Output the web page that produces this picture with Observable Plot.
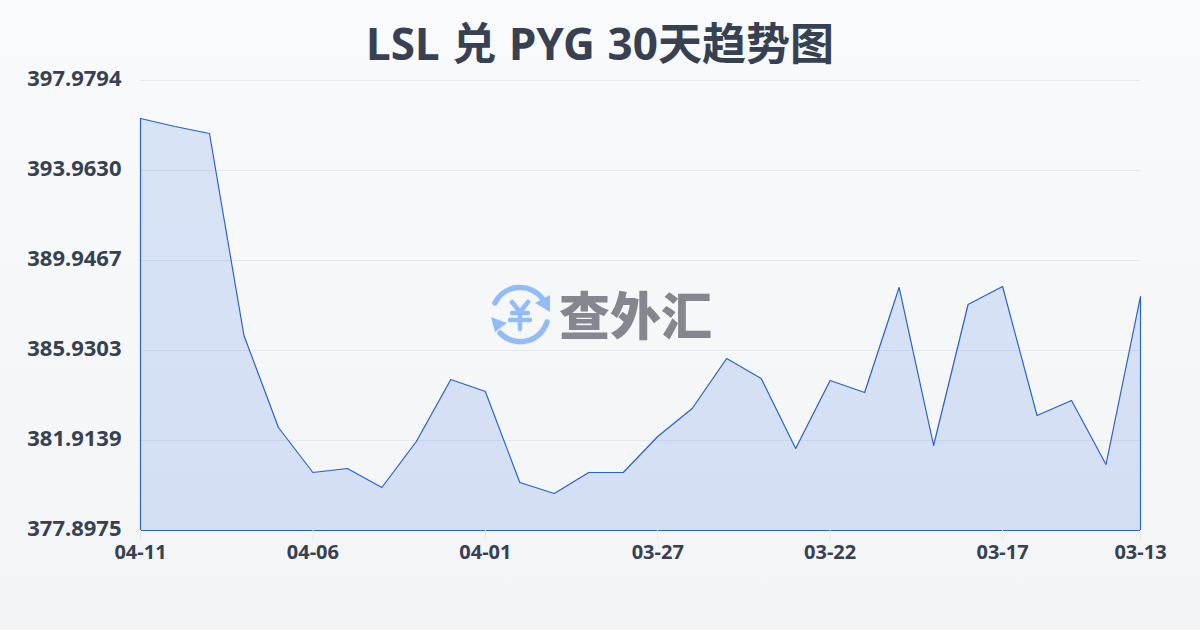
<!DOCTYPE html>
<html lang="zh">
<head>
<meta charset="utf-8">
<script src="https://cdn.jsdelivr.net/npm/d3@7"></script>
<script src="https://cdn.jsdelivr.net/npm/@observablehq/plot@0.6"></script>
<style>
html,body{margin:0;padding:0;width:1200px;height:630px;overflow:hidden;background:linear-gradient(180deg,#f9fafc 0%,#f3f4f6 100%);}
#wrap{position:relative;width:1200px;height:630px;}
#title{position:absolute;left:0;top:12px;width:1200px;text-align:center;font-size:44px;line-height:62px;font-weight:700;word-spacing:1.3px;color:#374151;font-family:"Noto Sans","Noto Sans CJK SC",sans-serif;}
#chart{position:absolute;left:0;top:0;}
#logo{position:absolute;left:0;top:0;}
#brand{position:absolute;left:559px;top:277px;font-size:51px;line-height:72px;font-weight:900;color:#84878f;font-family:"Noto Sans CJK SC",sans-serif;}
</style>
</head>
<body>
<div id="wrap">
<div id="chart"></div>
<svg id="logo" width="1200" height="630" fill="none">
  <g stroke="#93bbf8" stroke-width="5.5" stroke-linecap="round" stroke-linejoin="round">
    <path d="M495 303A28 28 0 0 1 542 298"/>
    <path d="M547 322A28 28 0 0 1 500 333"/>
    <path d="M512 302L520 312L528 302M512 313H528M510 320H530M520 312V329" stroke-width="4.5"/>
  </g>
  <path d="M550 295V312L535 303Z" fill="#93bbf8"/>
  <path d="M491 317L507 323L495 332Z" fill="#93bbf8"/>
</svg>
<div id="brand">查外汇</div>
<div id="title">LSL 兑 PYG 30天趋势图</div>
</div>
<script>
const dates = ["04-11","04-10","04-09","04-08","04-07","04-06","04-05","04-04","04-03","04-02","04-01","03-31","03-30","03-29","03-28","03-27","03-26","03-25","03-24","03-23","03-22","03-21","03-20","03-19","03-18","03-17","03-16","03-15","03-14","03-13"];
const rates = [396.284,395.927,395.614,386.600,382.494,380.486,380.664,379.816,381.869,384.636,384.101,380.040,379.549,380.486,380.486,382.092,383.342,385.573,384.681,381.557,384.591,384.056,388.742,381.691,387.983,388.786,383.030,383.699,380.843,388.340];
const yTicks = [377.8975,381.9139,385.9303,389.9467,393.9630,397.9794];
const xTicks = ["04-11","04-06","04-01","03-27","03-22","03-17","03-13"];
const baseline = 377.8975;
const table = dates.map((d,i)=>({date:d,rate:rates[i]}));

const plot = Plot.plot({
  width:1200,height:630,
  marginLeft:140,marginRight:60,marginTop:80,marginBottom:100,
  style:{background:"transparent",fontFamily:'"Noto Sans","Noto Sans CJK SC",sans-serif',overflow:"visible"},
  x:{type:"point",domain:dates,padding:0,round:false,label:null},
  y:{domain:[baseline,yTicks[5]],label:null},
  marks:[
    Plot.gridY(yTicks,{stroke:"#e5e8ee",strokeOpacity:1,strokeWidth:1}),
    Plot.areaY(table,{x:"date",y1:()=>baseline,y2:"rate",fill:"#2f6fe0",fillOpacity:0.16,curve:"linear"}),
    Plot.lineY(table.concat([{date:dates[29],rate:baseline},{date:dates[0],rate:baseline},table[0]]),{x:"date",y:"rate",stroke:"#2a62cc",strokeWidth:1.2,curve:"linear"}),
    Plot.axisY(yTicks,{tickSize:0,tickPadding:19,tickFormat:d=>d.toFixed(4),fontSize:22,fontWeight:700,fill:"#374151",dy:-2,style:{letterSpacing:"0.25px"}}),
    Plot.axisX(xTicks,{tickSize:10,stroke:"#e5e8ee",tickPadding:4,fontSize:20,fontWeight:700,fill:"#374151",label:null,style:{letterSpacing:"0.5px"}})
  ]
});
document.getElementById("chart").appendChild(plot);
</script>
</body>
</html>
